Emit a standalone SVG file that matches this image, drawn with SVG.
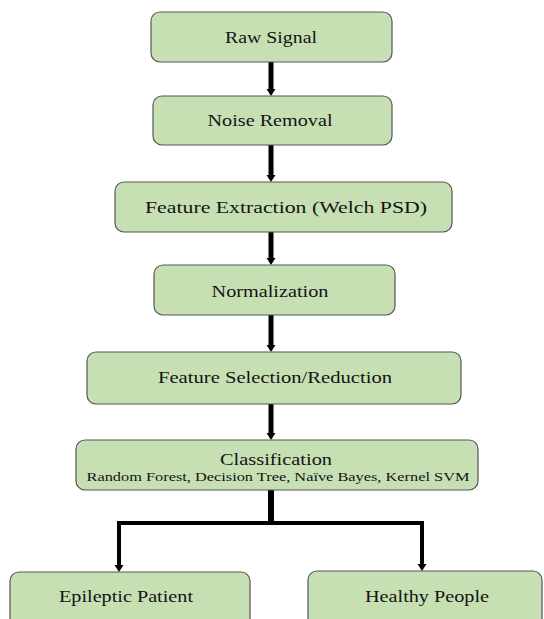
<svg xmlns="http://www.w3.org/2000/svg" width="544" height="619" viewBox="0 0 544 619">
<style>
.box{fill:#c6e0b4;stroke:#555;stroke-width:1.2}
.t{font-family:"Liberation Serif",serif;font-size:17px;fill:#141414;text-anchor:middle}
.s{font-family:"Liberation Serif",serif;font-size:13.5px;fill:#141414;text-anchor:middle}
.c{stroke:#000;stroke-width:5;fill:none}
.h{fill:#000}
</style>
<rect width="544" height="619" fill="#fff"/>
<g id="connectors">
<line class="c" x1="271" y1="62" x2="271" y2="90"/><path class="h" d="M266.5,89 L275.5,89 L271,96 Z"/>
<line class="c" x1="271" y1="145" x2="271" y2="176"/><path class="h" d="M266.5,175 L275.5,175 L271,182 Z"/>
<line class="c" x1="271" y1="232" x2="271" y2="259"/><path class="h" d="M266.5,258 L275.5,258 L271,265 Z"/>
<line class="c" x1="271" y1="315" x2="271" y2="346"/><path class="h" d="M266.5,345 L275.5,345 L271,352 Z"/>
<line class="c" x1="271" y1="404" x2="271" y2="434"/><path class="h" d="M266.5,433 L275.5,433 L271,440 Z"/>
<line x1="271" y1="490" x2="271" y2="523" stroke="#000" stroke-width="6"/>
<polyline points="119,566 119,523 422,523 422,565" fill="none" stroke="#000" stroke-width="4" stroke-linejoin="miter"/>
<path class="h" d="M114.5,565 L123.5,565 L119,572 Z"/>
<path class="h" d="M417.5,564 L426.5,564 L422,571 Z"/>
</g>
<g id="n1"><rect class="box" x="151" y="12" width="241" height="50" rx="9"/><text class="t" x="271" y="43" textLength="92" lengthAdjust="spacingAndGlyphs">Raw Signal</text></g>
<g id="n2"><rect class="box" x="153" y="96" width="239" height="49" rx="9"/><text class="t" x="270" y="126" textLength="125" lengthAdjust="spacingAndGlyphs">Noise Removal</text></g>
<g id="n3"><rect class="box" x="115" y="182" width="337" height="50" rx="9"/><text class="t" x="286" y="213" textLength="282" lengthAdjust="spacingAndGlyphs">Feature Extraction (Welch PSD)</text></g>
<g id="n4"><rect class="box" x="154" y="265" width="241" height="50" rx="9"/><text class="t" x="270" y="297" textLength="117" lengthAdjust="spacingAndGlyphs">Normalization</text></g>
<g id="n5"><rect class="box" x="87" y="352" width="374" height="52" rx="9"/><text class="t" x="275" y="383" textLength="234" lengthAdjust="spacingAndGlyphs">Feature Selection/Reduction</text></g>
<g id="n6"><rect class="box" x="76" y="440" width="402" height="50" rx="9"/><text class="t" x="276" y="465" textLength="112" lengthAdjust="spacingAndGlyphs">Classification</text><text class="s" x="278" y="481" textLength="383" lengthAdjust="spacingAndGlyphs">Random Forest, Decision Tree, Naïve Bayes, Kernel SVM</text></g>
<g id="n7"><rect class="box" x="10" y="572" width="240" height="60" rx="9"/><text class="t" x="126" y="602" textLength="134" lengthAdjust="spacingAndGlyphs">Epileptic Patient</text></g>
<g id="n8"><rect class="box" x="308" y="571" width="234" height="60" rx="9"/><text class="t" x="427" y="602" textLength="124" lengthAdjust="spacingAndGlyphs">Healthy People</text></g>
</svg>
